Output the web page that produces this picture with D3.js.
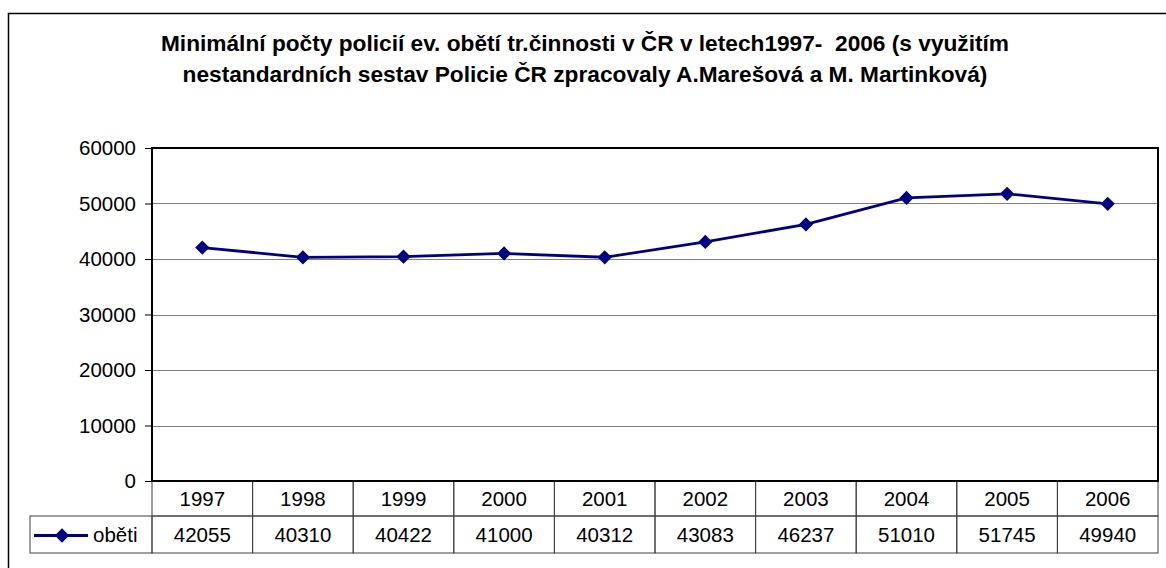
<!DOCTYPE html>
<html>
<head>
<meta charset="utf-8">
<script src="https://cdn.jsdelivr.net/npm/d3@7"></script>
<style>
  body { margin: 0; background: #fff; }
  svg { display: block; font-family: "Liberation Sans", Arial, sans-serif; }
</style>
</head>
<body>
<svg id="viz"></svg>
<script>
// data
const years = ['1997', '1998', '1999', '2000', '2001', '2002', '2003', '2004', '2005', '2006'];
const obeti = [42055, 40310, 40422, 41000, 40312, 43083, 46237, 51010, 51745, 49940];
const yTicks = [0, 10000, 20000, 30000, 40000, 50000, 60000];
const seriesName = 'oběti';
const titleLines = [
  'Minimální počty policií ev. obětí tr.činnosti v ČR v letech1997-  2006 (s využitím',
  'nestandardních sestav Policie ČR zpracovaly A.Marešová a M. Martinková)'
];

var width = 1166, height = 568;
var margin = { top: 148, right: 8, bottom: 87, left: 152 };
var drawWidth = width - margin.left - margin.right;
var drawHeight = height - margin.top - margin.bottom;
var navy = '#000080';
var fontSize = '20.5px';

var svg = d3.select('#viz').attr('width', width).attr('height', height);

// outer chart border (runs past right and bottom of the window)
svg.append('rect')
   .attr('x', 8.5).attr('y', 13.5)
   .attr('width', 1200).attr('height', 600)
   .attr('fill', 'none').attr('stroke', '#000').attr('stroke-width', 1.5);

// title
svg.append('text')
   .attr('x', 585).attr('y', 51)
   .attr('text-anchor', 'middle')
   .style('font-size', '22.7px').style('font-weight', 'bold')
   .style('white-space', 'pre')
   .selectAll('tspan')
   .data(titleLines)
   .enter().append('tspan')
   .attr('x', 585)
   .attr('dy', (d, i) => i === 0 ? 0 : 31)
   .text(d => d);

var g = svg.append('g').attr('transform', `translate(${margin.left}, ${margin.top})`);

var xScale = d3.scaleBand().domain(years).range([0, drawWidth]);
var yScale = d3.scaleLinear().domain([0, 60000]).range([drawHeight, 0]);

// gridlines
g.selectAll('.grid').data(yTicks.filter(d => d > 0 && d < 60000))
 .enter().append('line')
 .attr('x1', 0).attr('x2', drawWidth)
 .attr('y1', d => Math.round(yScale(d)) + 0.5).attr('y2', d => Math.round(yScale(d)) + 0.5)
 .attr('stroke', '#808080').attr('stroke-width', 1);

// y axis
var yAxis = d3.axisLeft(yScale).tickValues(yTicks).tickSize(7).tickPadding(9).tickFormat(d3.format('d'));
var ya = g.append('g').call(yAxis);
ya.select('.domain').remove();
ya.selectAll('line').attr('stroke', '#000');
ya.selectAll('text').attr('font-size', fontSize).attr('fill', '#000')
  .attr('font-family', '"Liberation Sans", Arial, sans-serif');

// line + markers
var line = d3.line()
  .x((d, i) => xScale(years[i]) + xScale.bandwidth() / 2)
  .y(d => yScale(d));

g.append('path').datum(obeti)
 .attr('d', line)
 .attr('fill', 'none').attr('stroke', navy).attr('stroke-width', 2.8);

var diamond = d3.symbol().type(d3.symbolDiamond2).size(130);
g.selectAll('.pt').data(obeti)
 .enter().append('path')
 .attr('transform', (d, i) => `translate(${xScale(years[i]) + xScale.bandwidth() / 2}, ${yScale(d)})`)
 .attr('d', diamond)
 .attr('fill', navy);

// data table
var rowH = [35, 37];
var tableTop = drawHeight;
var tg = g.append('g').attr('class', 'table');
var tableStroke = '#404040';
var legendLeft = 30 - margin.left;

// row 1 (years)
years.forEach(function(y) {
  tg.append('rect')
    .attr('x', xScale(y)).attr('y', tableTop)
    .attr('width', xScale.bandwidth()).attr('height', rowH[0])
    .attr('fill', 'none').attr('stroke', tableStroke).attr('stroke-width', 1);
  tg.append('text')
    .attr('x', xScale(y) + xScale.bandwidth() / 2).attr('y', tableTop + 25)
    .attr('text-anchor', 'middle').style('font-size', fontSize)
    .text(y);
});

// row 2 (values)
obeti.forEach(function(v, i) {
  tg.append('rect')
    .attr('x', xScale(years[i])).attr('y', tableTop + rowH[0])
    .attr('width', xScale.bandwidth()).attr('height', rowH[1])
    .attr('fill', 'none').attr('stroke', tableStroke).attr('stroke-width', 1);
  tg.append('text')
    .attr('x', xScale(years[i]) + xScale.bandwidth() / 2).attr('y', tableTop + rowH[0] + 26)
    .attr('text-anchor', 'middle').style('font-size', fontSize)
    .text(v);
});

// legend cell
tg.append('rect')
  .attr('x', legendLeft).attr('y', tableTop + rowH[0])
  .attr('width', -legendLeft).attr('height', rowH[1])
  .attr('fill', 'none').attr('stroke', tableStroke).attr('stroke-width', 1);
var ly = tableTop + rowH[0] + rowH[1] / 2 + 1;
tg.append('line')
  .attr('x1', legendLeft + 4).attr('x2', legendLeft + 58)
  .attr('y1', ly).attr('y2', ly)
  .attr('stroke', navy).attr('stroke-width', 2.8);
tg.append('path')
  .attr('transform', `translate(${legendLeft + 32}, ${ly})`)
  .attr('d', diamond).attr('fill', navy);
tg.append('text')
  .attr('x', legendLeft + 63).attr('y', tableTop + rowH[0] + 26)
  .style('font-size', fontSize)
  .text(seriesName);

// thick plot border on top of table lines
g.append('rect')
 .attr('x', 0).attr('y', 0)
 .attr('width', drawWidth).attr('height', drawHeight)
 .attr('fill', 'none').attr('stroke', '#000').attr('stroke-width', 2);
</script>
</body>
</html>
